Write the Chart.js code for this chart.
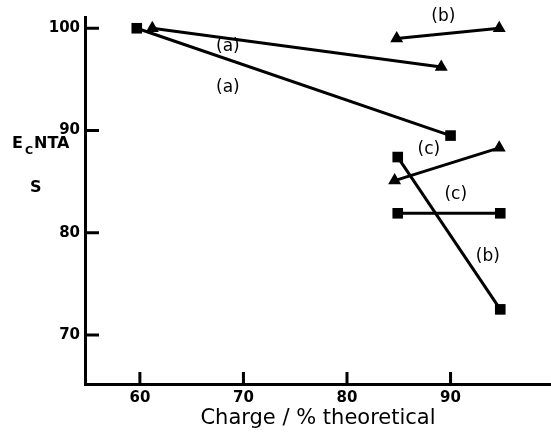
<!DOCTYPE html>
<html>
<head>
<meta charset="utf-8">
<script src="https://cdn.jsdelivr.net/npm/chart.js@4.4.1/dist/chart.umd.min.js"></script>
<style>
  body { margin: 0; background: #fff; }
  #wrap { width: 551px; height: 437px; }
</style>
</head>
<body>
<div id="wrap"><canvas id="effChart" width="551" height="437"></canvas></div>
<script>
// Charge (% theoretical) and E_C NTA selectivity for each pair of runs
const triA_x = [61.2, 89.1];
const triA_y = [100, 96.2];
const sqA_x = [59.7, 90.0];
const sqA_y = [100, 89.5];
const triB_x = [84.8, 94.7];
const triB_y = [99.0, 100];
const sqB_x = [84.9, 94.8];
const sqB_y = [87.4, 72.5];
const triC_x = [84.6, 94.7];
const triC_y = [85.1, 88.3];
const sqC_x = [84.9, 94.8];
const sqC_y = [81.9, 81.9];

const xTicks = [60, 70, 80, 90];
const yTicks = [70, 80, 90, 100];

// curve tags, placed in data units
const tagText = ['(a)', '(a)', '(b)', '(c)', '(c)', '(b)'];
const tagX = [68.5, 68.5, 89.3, 87.9, 90.5, 93.6];
const tagY = [98.2, 94.2, 101.1, 88.1, 83.7, 77.7];

function pts(xs, ys) {
  return xs.map((x, i) => ({ x: x, y: ys[i] }));
}

function series(xs, ys, shape) {
  return {
    data: pts(xs, ys),
    borderColor: '#000',
    backgroundColor: '#000',
    borderWidth: 3,
    pointStyle: shape,
    pointRadius: shape === 'rect' ? 7.5 : 7.5,
    pointBorderWidth: 0,
    showLine: true,
    fill: false
  };
}

const font = 'DejaVu Sans';

// inward tick marks, tags and the y caption
const extras = {
  id: 'extras',
  afterDraw(chart) {
    const c = chart.ctx;
    const xs = chart.scales.x, ys = chart.scales.y;
    c.save();
    c.strokeStyle = '#000';
    c.lineWidth = 3;
    c.beginPath();
    yTicks.forEach(v => {
      const py = ys.getPixelForValue(v);
      c.moveTo(xs.left, py);
      c.lineTo(xs.left + 14, py);
    });
    xTicks.forEach(v => {
      const px = xs.getPixelForValue(v);
      c.moveTo(px, ys.bottom);
      c.lineTo(px, ys.bottom - 12);
    });
    c.stroke();

    c.fillStyle = '#000';
    c.textAlign = 'center';
    c.textBaseline = 'middle';
    c.font = '500 17px "' + font + '"';
    tagText.forEach((t, i) => {
      c.fillText(t, xs.getPixelForValue(tagX[i]), ys.getPixelForValue(tagY[i]));
    });

    c.textAlign = 'left';
    c.font = 'bold 16px "' + font + '"';
    c.fillText('E', 12, 144);
    c.font = 'bold 11px "' + font + '"';
    c.fillText('C', 25, 151);
    c.font = 'bold 16px "' + font + '"';
    c.fillText('NTA', 34, 144);
    c.fillText('S', 30, 188);
    c.restore();
  }
};

new Chart(document.getElementById('effChart'), {
  type: 'scatter',
  data: {
    datasets: [
      series(triA_x, triA_y, 'triangle'),
      series(sqA_x, sqA_y, 'rect'),
      series(triB_x, triB_y, 'triangle'),
      series(sqB_x, sqB_y, 'rect'),
      series(triC_x, triC_y, 'triangle'),
      series(sqC_x, sqC_y, 'rect')
    ]
  },
  options: {
    responsive: false,
    animation: false,
    layout: { autoPadding: false, padding: { top: 17, right: 0, left: 0, bottom: 0 } },
    plugins: {
      legend: { display: false },
      tooltip: { enabled: false }
    },
    scales: {
      x: {
        type: 'linear',
        min: 54.7,
        max: 99.7,
        afterBuildTicks: s => { s.ticks = xTicks.map(v => ({ value: v })); },
        afterFit: s => { s.height = 53; },
        grid: { display: false, drawTicks: false },
        border: { display: true, width: 3, color: '#000' },
        ticks: {
          color: '#000',
          padding: 5,
          maxRotation: 0,
          font: { family: font, size: 15, weight: 'bold' }
        },
        title: {
          display: true,
          text: 'Charge / % theoretical',
          color: '#000',
          padding: { top: 0, bottom: 6 },
          font: { family: font, size: 21, weight: '500' }
        }
      },
      y: {
        type: 'linear',
        min: 65.2,
        max: 101.1,
        afterBuildTicks: s => { s.ticks = yTicks.map(v => ({ value: v })); },
        afterFit: s => { s.width = 85; },
        grid: { display: false, drawTicks: false },
        border: { display: true, width: 3, color: '#000' },
        ticks: {
          color: '#000',
          padding: 5,
          font: { family: font, size: 15, weight: 'bold' }
        }
      }
    }
  },
  plugins: [extras]
});
</script>
</body>
</html>
